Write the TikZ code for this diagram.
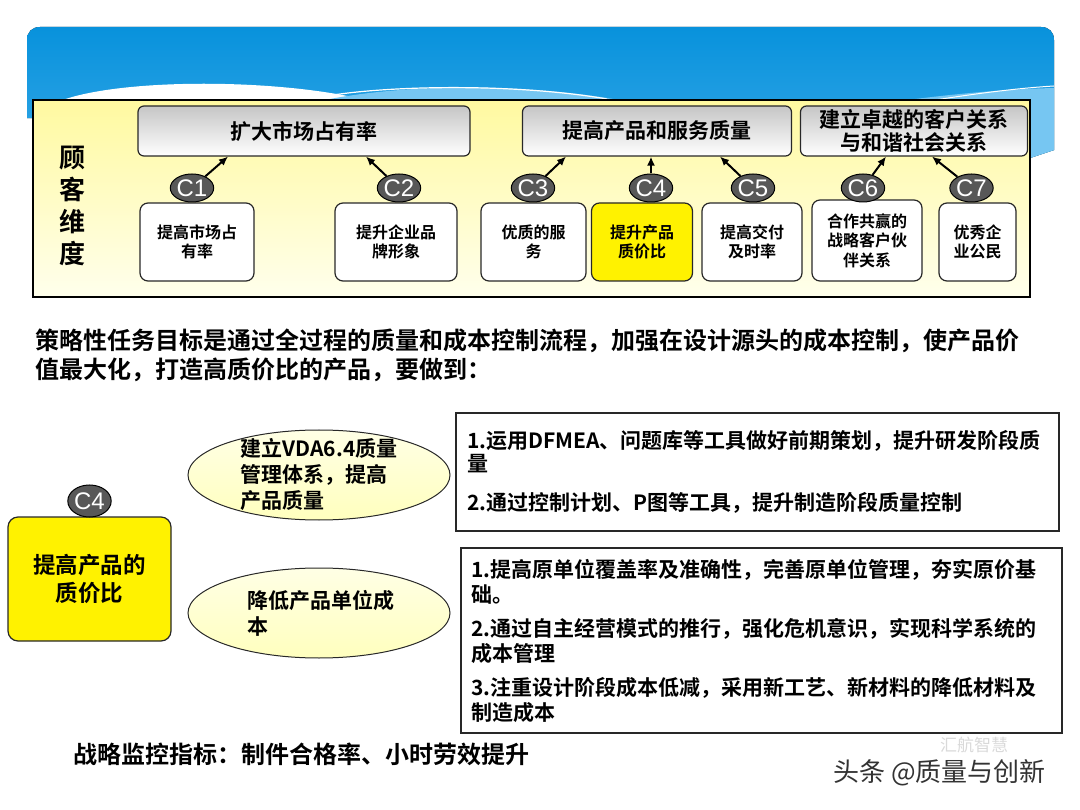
\documentclass[tikz,border=0pt]{standalone}
\usepackage{fontspec}
\setmainfont{Noto Sans CJK SC}[BoldFont={* Bold}]
\newfontfamily\labfont{Liberation Sans}
\usepackage{tikz}
\usetikzlibrary{arrows.meta,shapes.geometric}
\definecolor{bannertop}{RGB}{8,146,220}
\definecolor{bannerbot}{RGB}{50,166,230}
\definecolor{bannerlite}{RGB}{118,198,242}
\definecolor{frametop}{RGB}{255,249,160}
\definecolor{framebot}{RGB}{255,255,236}
\definecolor{cgray}{RGB}{88,88,88}
\definecolor{edge}{RGB}{40,40,40}
\definecolor{ovalfill}{RGB}{255,255,190}

\begin{document}
\begin{tikzpicture}[x=1pt, y=-1pt, >=Latex,
        goal/.style={draw=edge, line width=1.2pt, rounded corners=6pt, top color=gray!45, bottom color=white,
            minimum height=50pt, inner sep=0pt, align=center, font=\bfseries\fontsize{21}{23}\selectfont},
        sub/.style={draw=edge, line width=1.2pt, rounded corners=8pt, fill=white, minimum height=78pt,
            inner sep=0pt, align=center, font=\bfseries\fontsize{16}{19.5}\selectfont},
        ctag/.style={ellipse, draw=black, line width=1pt, fill=cgray, text=white, minimum width=36pt,
            minimum height=28pt, inner sep=0pt, font=\labfont\fontsize{24}{24}\selectfont},
        oval/.style={ellipse, draw=edge, line width=1pt, top color=ovalfill!40, bottom color=ovalfill,
            minimum width=262pt, minimum height=90pt, inner sep=0pt},
        ovaltxt/.style={align=left, inner sep=0pt, font=\bfseries\fontsize{21}{26}\selectfont},
        note/.style={draw=edge, line width=1.2pt, fill=white, inner ysep=0pt, align=left, text width=581pt},
        line/.style={-{Latex[length=9pt,width=8pt]}, line width=2pt}]
    \useasboundingbox (0,0) rectangle (1080,810);
    \fill[top color=bannertop, bottom color=bannerbot] (27,118) -- (27,40) .. controls (27,32) and (32,27) .. (40,27)
        -- (1041,27) .. controls (1049,27) and (1054,32) .. (1054,40) -- (1054,150) -- (1030,158) -- cycle;
    \fill[white] (60,101) .. controls (120,78) and (280,78) .. (370,101) -- cycle;
    \fill[bannerlite] (320,101) .. controls (400,84) and (520,82) .. (625,101) -- cycle;
    \draw[white, line width=1.2pt] (333,95) .. controls (400,85) and (520,84) .. (607,99);
    \fill[bannerlite] (900,101) .. controls (960,93) and (1010,89) .. (1054,88) -- (1054,150) -- (1030,158) -- (1030,101) -- cycle;
    \draw[white, line width=1pt] (935,100) .. controls (980,93) and (1020,88) .. (1054,86);
    \draw[line width=1.8pt, top color=frametop, bottom color=framebot] (33,100) rectangle (1030,297);

    \node[align=center, inner sep=0pt, font=\bfseries\fontsize{26}{32}\selectfont] (dim) at (72,206) {顾\\客\\维\\度};
    \node[goal, minimum width=332pt] (g1) at (304,131) {扩大市场占有率};
    \node[goal, minimum width=269pt] (g2) at (657,131) {提高产品和服务质量};
    \node[goal, minimum width=227pt] (g3) at (914,131) {建立卓越的客户关系\\与和谐社会关系};
    \node[sub, minimum width=114pt] (s1) at (197,242) {提高市场占\\有率};
    \node[sub, minimum width=122pt] (s2) at (396,242) {提升企业品\\牌形象};
    \node[sub, minimum width=105pt] (s3) at (533.5,242) {优质的服\\务};
    \node[sub, minimum width=101pt, fill=yellow] (s4) at (642,242) {提升产品\\质价比};
    \node[sub, minimum width=100pt] (s5) at (752,242) {提高交付\\及时率};
    \node[sub, minimum width=110pt, minimum height=81pt] (s6) at (867,240.5) {合作共赢的\\战略客户伙\\伴关系};
    \node[sub, minimum width=77pt] (s7) at (977.5,242) {优秀企\\业公民};
    \node[ctag] (c1) at (192,188) {C1};
    \node[ctag] (c2) at (399,188) {C2};
    \node[ctag] (c3) at (533,188) {C3};
    \node[ctag] (c4) at (651,188) {C4};
    \node[ctag] (c5) at (753,188) {C5};
    \node[ctag] (c6) at (863,188) {C6};
    \node[ctag] (c7) at (971.5,188) {C7};
    \draw[line] (c1) -- ([xshift=-76pt]g1.south);
    \draw[line] (c2) -- ([xshift=62pt]g1.south);
    \draw[line] (c3) -- ([xshift=-91pt]g2.south);
    \draw[line] (c4) -- (c4 |- g2.south);
    \draw[line] (c5) -- ([xshift=63pt]g2.south);
    \draw[line] (c6) -- ([xshift=-28pt]g3.south);
    \draw[line] (c7) -- ([xshift=18pt]g3.south);

    \node[anchor=west, align=left, inner sep=0pt, font=\bfseries\fontsize{24}{29}\selectfont] (task) at (35,355.5)
        {策略性任务目标是通过全过程的质量和成本控制流程，加强在设计源头的成本控制，使产品价\\值最大化，打造高质价比的产品，要做到：};

    \node[draw=edge, line width=1.2pt, rounded corners=10pt, fill=yellow, minimum width=163pt, minimum height=124pt,
        inner sep=0pt, align=center, font=\bfseries\fontsize{22.5}{28}\selectfont] (c4box) at (89.5,579) {提高产品的\\质价比};
    \node[ctag, minimum width=39pt, minimum height=32pt] (c4tag) at (89.5,501) {C4};
    \node[oval] (o1) at (319,475) {};
    \node[ovaltxt] (o1txt) at (319,475) {建立VDA6.4质量\\管理体系，提高\\产品质量};
    \node[oval] (o2) at (319,613) {};
    \node[ovaltxt] (o2txt) at (320.5,613.5) {降低产品单位成\\本};
    \node[note, minimum width=603pt, minimum height=118pt, inner xsep=11pt, font=\bfseries\fontsize{21}{23}\selectfont] (n1) at (757.5,472)
        {1.运用DFMEA、问题库等工具做好前期策划，提升研发阶段质\\量\\[16pt]2.通过控制计划、P图等工具，提升制造阶段质量控制};
    \node[note, minimum width=601pt, minimum height=185pt, inner xsep=10pt, font=\bfseries\fontsize{21}{25}\selectfont] (n2) at (761.5,640.5)
        {1.提高原单位覆盖率及准确性，完善原单位管理，夯实原价基\\础。\\[9pt]2.通过自主经营模式的推行，强化危机意识，实现科学系统的\\成本管理\\[9pt]3.注重设计阶段成本低减，采用新工艺、新材料的降低材料及\\制造成本};

    \node[anchor=west, inner sep=0pt, font=\bfseries\fontsize{24}{28}\selectfont] (kpi) at (73,754) {战略监控指标：制件合格率、小时劳效提升};
    \node[anchor=west, inner sep=0pt, text=gray!30, font=\fontsize{17}{17}\selectfont] (wm2) at (940,745) {汇航智慧};
    \node[anchor=west, inner sep=0pt, text=black!80, font=\fontsize{26}{26}\selectfont] (wm) at (833,773) {头条 @质量与创新};
\end{tikzpicture}
\end{document}
